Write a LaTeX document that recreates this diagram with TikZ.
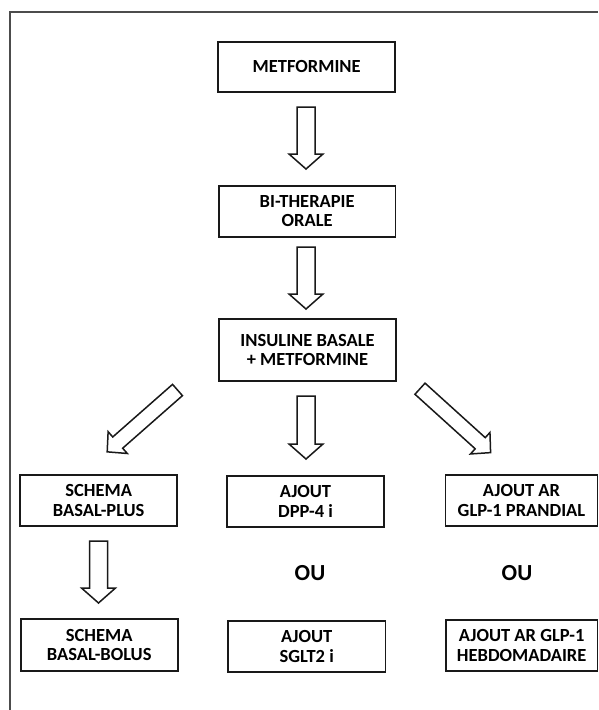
\documentclass[tikz,border=0pt]{standalone}
\usepackage{fontspec}
\setmainfont{Carlito}
\usetikzlibrary{calc}
\tikzset{
  box/.style={draw=black!90, line width=1.8pt, align=center, inner sep=0pt,
    font=\bfseries\fontsize{18.5}{19.5}\selectfont},
  ortext/.style={font=\bfseries\fontsize{23}{25}\selectfont, inner sep=0pt},
  arrowline/.style={draw=black!90, line width=1.5pt, fill=white, line join=miter},
  framestyle/.style={draw=black!70, line width=2pt}
}
\newcommand{\blkarrow}[5]{% tail, tip, shaft half width, head half width, head length
  \path let \p1=(#1), \p2=(#2),
    \n1={atan2(\y2-\y1,\x2-\x1)}, \n2={veclen(\x2-\x1,\y2-\y1)} in
    \pgfextra{\xdef\arrang{\n1}\xdef\arrlen{\n2}};
  \draw[arrowline, shift={(#1)}, rotate=\arrang]
    (0,-#3) -- ({\arrlen-#5},-#3) -- ({\arrlen-#5},-#4) -- (\arrlen,0)
    -- ({\arrlen-#5},#4) -- ({\arrlen-#5},#3) -- (0,#3) -- cycle;
}
\begin{document}
\begin{tikzpicture}[x=1pt,y=-1pt]
\useasboundingbox (0,0) rectangle (598,710);
\draw[framestyle] (10,710) -- (10,12) -- (598,12);

\node[box, minimum width=176.7pt, minimum height=50pt] (met) at (306.7,66.7) {METFORMINE};
\node[box, minimum width=176.5pt, minimum height=50.7pt] (bi) at (307.2,211.3) {BI-THERAPIE\\ORALE};
\node[box, minimum width=177pt, minimum height=62.5pt] (ins) at (307.5,350) {INSULINE BASALE\\+ METFORMINE};

\node[box, minimum width=157pt, minimum height=50.7pt] (bplus) at (98.7,500.3) {SCHEMA\\BASAL-PLUS};
\node[box, minimum width=157.5pt, minimum height=50.7pt] (dpp) at (305.5,501.3) {AJOUT\\DPP-4 i};
\node[box, minimum width=152pt, minimum height=50.7pt] (glpp) at (521.5,500.3) {AJOUT AR\\GLP-1 PRANDIAL};

\node[box, minimum width=157pt, minimum height=52pt] (bbolus) at (99.2,645) {SCHEMA\\BASAL-BOLUS};
\node[box, minimum width=157.4pt, minimum height=50.7pt] (sglt) at (306.7,646.3) {AJOUT\\SGLT2 i};
\node[box, minimum width=151.5pt, minimum height=50.7pt] (glph) at (521.7,645.3) {AJOUT AR GLP-1\\HEBDOMADAIRE};

\node[ortext] (ou1) at (310,573) {OU};
\node[ortext] (ou2) at (517,573) {OU};

\coordinate (a1s) at (306,107);   \coordinate (a1e) at (306,169);
\coordinate (a2s) at (306,247);   \coordinate (a2e) at (306,309);
\coordinate (a3s) at (306,396);   \coordinate (a3e) at (306,459);
\coordinate (a4s) at (98.5,541);  \coordinate (a4e) at (98.5,603);
\coordinate (dls) at (177.5,390); \coordinate (dle) at (107,452);
\coordinate (drs) at (420,388.7); \coordinate (dre) at (490.7,452.7);

\blkarrow{a1s}{a1e}{9}{17}{15}
\blkarrow{a2s}{a2e}{9}{17}{15}
\blkarrow{a3s}{a3e}{9}{17}{15}
\blkarrow{a4s}{a4e}{9}{17}{15}
\blkarrow{dls}{dle}{7.5}{14.5}{14}
\blkarrow{drs}{dre}{7.5}{14.5}{14}
\end{tikzpicture}
\end{document}
